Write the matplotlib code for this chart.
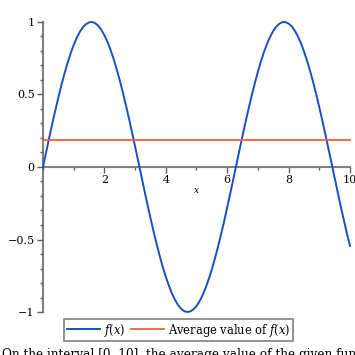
import matplotlib
matplotlib.use("Agg")
import matplotlib.pyplot as plt
from matplotlib.ticker import MultipleLocator, FuncFormatter

plt.rcParams['font.family'] = ['DejaVu Serif']
plt.rcParams['mathtext.fontset'] = 'dejavuserif'

x_vals = [0.0, 0.1, 0.2, 0.3, 0.4, 0.5, 0.6, 0.7, 0.8, 0.9,
          1.0, 1.1, 1.2, 1.3, 1.4, 1.5, 1.6, 1.7, 1.8, 1.9,
          2.0, 2.1, 2.2, 2.3, 2.4, 2.5, 2.6, 2.7, 2.8, 2.9,
          3.0, 3.1, 3.2, 3.3, 3.4, 3.5, 3.6, 3.7, 3.8, 3.9,
          4.0, 4.1, 4.2, 4.3, 4.4, 4.5, 4.6, 4.7, 4.8, 4.9,
          5.0, 5.1, 5.2, 5.3, 5.4, 5.5, 5.6, 5.7, 5.8, 5.9,
          6.0, 6.1, 6.2, 6.3, 6.4, 6.5, 6.6, 6.7, 6.8, 6.9,
          7.0, 7.1, 7.2, 7.3, 7.4, 7.5, 7.6, 7.7, 7.8, 7.9,
          8.0, 8.1, 8.2, 8.3, 8.4, 8.5, 8.6, 8.7, 8.8, 8.9,
          9.0, 9.1, 9.2, 9.3, 9.4, 9.5, 9.6, 9.7, 9.8, 9.9, 10.0]
f_vals = [0.000, 0.100, 0.199, 0.296, 0.389, 0.479, 0.565, 0.644, 0.717, 0.783,
          0.841, 0.891, 0.932, 0.964, 0.985, 0.997, 1.000, 0.992, 0.974, 0.946,
          0.909, 0.863, 0.808, 0.746, 0.675, 0.598, 0.516, 0.427, 0.335, 0.239,
          0.141, 0.042, -0.058, -0.158, -0.256, -0.351, -0.443, -0.530, -0.612, -0.688,
          -0.757, -0.818, -0.872, -0.916, -0.952, -0.978, -0.994, -1.000, -0.996, -0.982,
          -0.959, -0.926, -0.883, -0.832, -0.773, -0.706, -0.631, -0.551, -0.465, -0.374,
          -0.279, -0.182, -0.083, 0.017, 0.117, 0.215, 0.312, 0.405, 0.494, 0.578,
          0.657, 0.729, 0.794, 0.850, 0.899, 0.938, 0.968, 0.988, 0.999, 0.999,
          0.989, 0.970, 0.941, 0.902, 0.855, 0.798, 0.734, 0.663, 0.585, 0.501,
          0.412, 0.319, 0.223, 0.124, 0.025, -0.075, -0.174, -0.272, -0.366, -0.458, -0.544]
avg_x = [0.0, 10.0]
avg_y = [0.184, 0.184]
x_ticks = [2, 4, 6, 8, 10]
y_ticks = [-1, -0.5, 0, 0.5, 1]
caption = "On the interval [0, 10], the average value of the given function is 0.184."

fig = plt.figure(figsize=(3.55, 3.55), dpi=100)
ax = fig.add_axes([0.1211, 0.1211, 0.8648, 0.817])
ax.set_xlim(0, 10)
ax.set_ylim(-1, 1)

l1, = ax.plot(x_vals, f_vals, color='#1a4fc4', lw=1.4, label='$f(x)$', clip_on=False)
l2, = ax.plot(avg_x, avg_y, color='#f2603a', lw=1.3, label='Average value of $f(x)$', clip_on=False)

for s in ['top', 'right']:
    ax.spines[s].set_visible(False)
ax.spines['left'].set_position(('data', 0))
ax.spines['bottom'].set_position(('data', 0))
for s in ['left', 'bottom']:
    ax.spines[s].set_color('#808080')
    ax.spines[s].set_linewidth(1.5)
    ax.spines[s].set_zorder(0)

ax.set_xticks(x_ticks)
ax.set_yticks(y_ticks)
ax.xaxis.set_minor_locator(MultipleLocator(1))
ax.yaxis.set_minor_locator(MultipleLocator(0.1))
fmt = FuncFormatter(lambda v, p: ('%g' % v).replace('-', '\u2212'))
ax.xaxis.set_major_formatter(fmt)
ax.yaxis.set_major_formatter(fmt)
ax.tick_params(which='major', direction='out', length=4, width=1, color='#606060', labelsize=8, pad=2)
ax.tick_params(which='minor', direction='out', length=2, width=1, color='#606060')

ax.text(5, -0.165, 'x', fontsize=6.5, fontstyle='italic', ha='center', va='center')

leg = fig.legend(handles=[l1, l2], loc='center', bbox_to_anchor=(0.503, 0.0704), ncol=2,
                 fontsize=8.3, frameon=True, fancybox=False, handlelength=2.9,
                 handletextpad=0.3, columnspacing=0.5, borderpad=0.25, borderaxespad=0)
leg.get_frame().set_edgecolor('#606060')
leg.get_frame().set_linewidth(1.2)

fig.text(0.005, -0.008, caption, fontsize=8.7, ha='left', va='baseline')

fig.savefig('out.png', dpi=100)
